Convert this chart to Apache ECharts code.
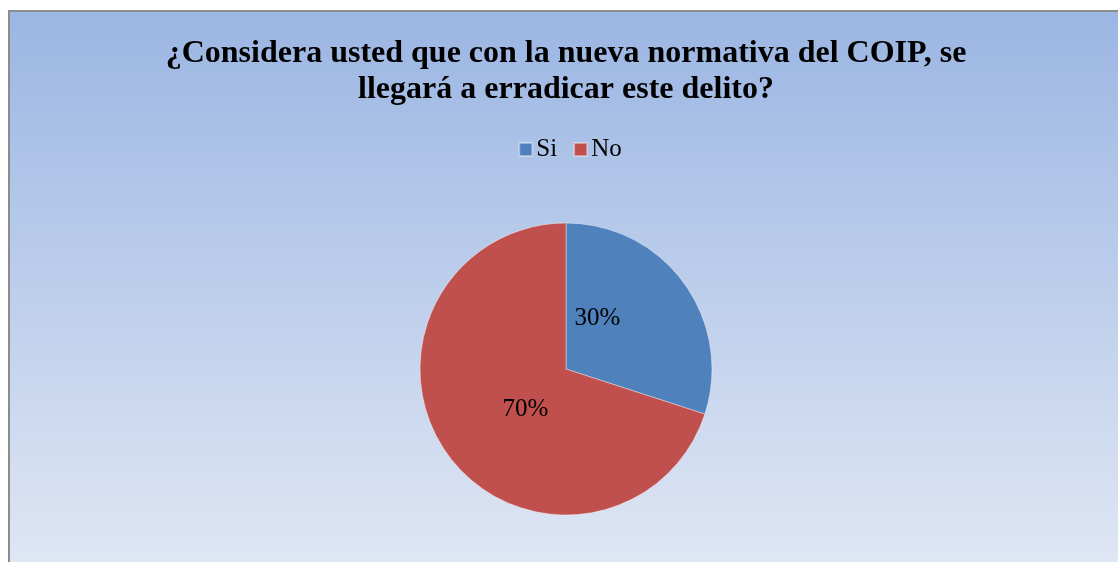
<!DOCTYPE html>
<html>
<head>
<meta charset="utf-8">
<script src="https://cdn.jsdelivr.net/npm/echarts@6/dist/echarts.min.js"></script>
<style>
  html, body { margin: 0; padding: 0; background: #ffffff; overflow: hidden; width: 1118px; height: 562px; }
  #chart { position: absolute; left: 8px; top: 10px; width: 1120px; height: 560px; border-left: 2px solid #8c8c8c; border-top: 2px solid #8c8c8c; }
</style>
</head>
<body>
<div id="chart"></div>
<script>
const titleText = '¿Considera usted que con la nueva normativa del COIP, se\nllegará a erradicar este delito?';
const categories = ['Si', 'No'];
const values = [30, 70];
const colors = ['#4f81bd', '#c0504d'];

const chart = echarts.init(document.getElementById('chart'), null, { renderer: 'canvas' });

// offsets to mimic Excel-style inside label placement
const labelOffsets = [[-30, -6], [21, -4]];

const option = {
  backgroundColor: new echarts.graphic.LinearGradient(0, 0, 0, 1, [
    { offset: 0, color: '#9bb6e3' },
    { offset: 1, color: '#e0e7f4' }
  ]),
  animation: false,
  title: {
    text: titleText,
    left: 551,
    textAlign: 'center',
    top: 19,
    textStyle: {
      fontFamily: 'Liberation Serif',
      fontWeight: 'bold',
      fontSize: 32,
      lineHeight: 36,
      color: '#000'
    }
  },
  legend: {
    data: categories,
    top: 120,
    left: 'center',
    itemWidth: 13,
    itemHeight: 13,
    itemGap: 16,
    icon: 'rect',
    textStyle: { fontFamily: 'Liberation Serif', fontSize: 25, color: '#000', padding: [0, 0, 0, -1] }
  },
  series: [{
    type: 'pie',
    center: [556, 357],
    radius: 146,
    startAngle: 90,
    clockwise: true,
    color: colors,
    label: {
      position: 'inside',
      formatter: '{d}%',
      fontFamily: 'Liberation Serif',
      fontSize: 25,
      color: '#000'
    },
    labelLine: { show: false },
    itemStyle: { borderColor: 'rgba(255,255,255,0.4)', borderWidth: 1 },
    emphasis: { disabled: true },
    data: categories.map((c, i) => ({
      name: c,
      value: values[i],
      label: { offset: labelOffsets[i] }
    }))
  }]
};

chart.setOption(option);
</script>
</body>
</html>
